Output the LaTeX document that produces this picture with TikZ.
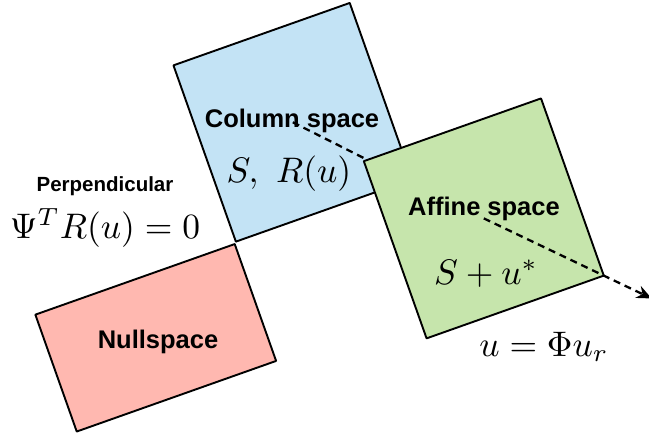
\documentclass[tikz,border=0pt]{standalone}
\usepackage{fontspec}
\newfontfamily\lblfont{Liberation Sans}
\usetikzlibrary{arrows.meta,calc}
\definecolor{colblue}{RGB}{195,227,245}
\definecolor{nullred}{RGB}{255,184,176}
\definecolor{affgreen}{RGB}{198,229,172}
\tikzset{
  every picture/.style={line join=round, line cap=round, >=Stealth},
  space/.style={draw, line width=1.9pt, inner sep=0pt, rotate=19.5},
  lbl/.style={font=\lblfont\bfseries\fontsize{25.5}{29}\selectfont},
  smalllbl/.style={font=\lblfont\bfseries\fontsize{20.5}{24}\selectfont},
  eq/.style={scale=3.55},
  map/.style={line width=2.3pt, dash pattern=on 7pt off 5pt, line cap=butt},
}

\begin{document}
\begin{tikzpicture}[x=1pt,y=1pt]
\useasboundingbox (0,0) rectangle (649,435);
\node[space,fill=colblue,minimum width=187pt,minimum height=187pt] (col) at (292.8,312.7) {};
\node[space,fill=nullred,minimum width=211.5pt,minimum height=124pt,anchor=north east] (null) at (col.south west) {};
\draw[map] (col.center) -- (483.8,216.6);
\node[space,fill=affgreen,minimum width=188pt,minimum height=188pt] (aff) at (483.8,216.6) {};
\coordinate (uend) at ($(aff.center)!1.385!(aff.south east)$);
\draw[map,-{Stealth[length=15pt,width=13pt]}] (aff.center) -- (uend);
% labels
\node[lbl] (collbl) at (292,314) {Column space};
\node[eq] (coleq) at (289,261) {$S,\ R(u)$};
\node[lbl] (afflbl) at (484,226) {Affine space};
\node[eq] (affeq) at (486,161) {$S+u^*$};
\node[eq] (ueq) at (544,88) {$u=\Phi u_r$};
\node[lbl] (nulllbl) at (158,93) {Nullspace};
\node[smalllbl] (perplbl) at (105,249) {Perpendicular};
\node[eq] (perpeq) at (105,207) {$\Psi^T R(u)=0$};
\end{tikzpicture}
\end{document}
